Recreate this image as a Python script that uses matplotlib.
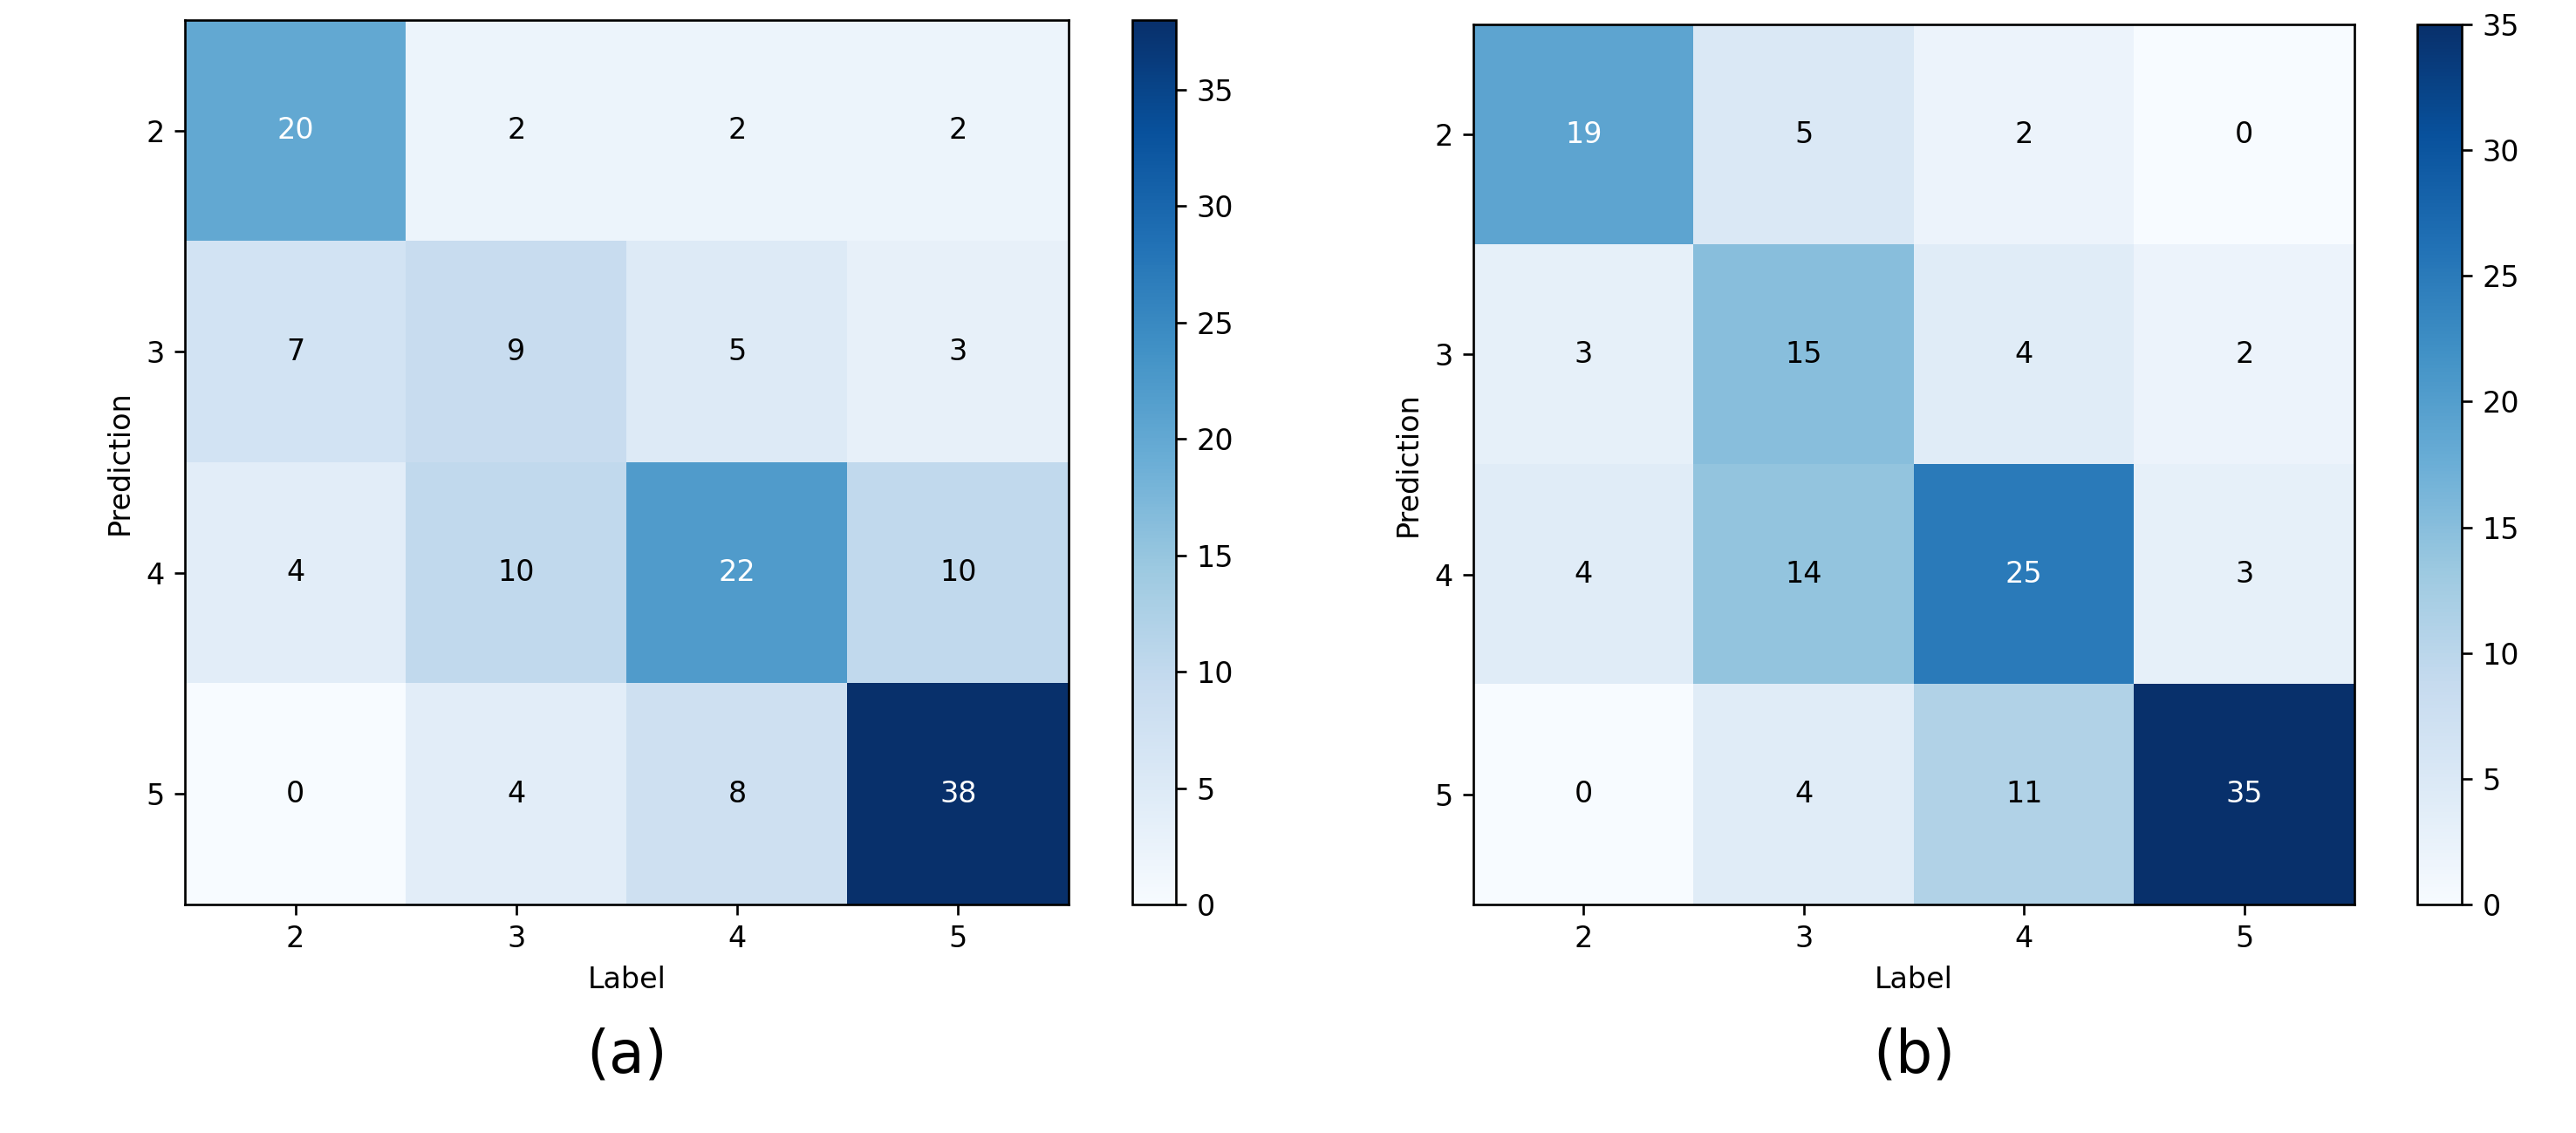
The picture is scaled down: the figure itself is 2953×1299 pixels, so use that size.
import numpy as np
import matplotlib
matplotlib.use("Agg")
import matplotlib.pyplot as plt

classes = ["2", "3", "4", "5"]
cm_a = np.array([
    [20, 2, 2, 2],
    [7, 9, 5, 3],
    [4, 10, 22, 10],
    [0, 4, 8, 38],
])
cm_b = np.array([
    [19, 5, 2, 0],
    [3, 15, 4, 2],
    [4, 14, 25, 3],
    [0, 4, 11, 35],
])
captions = ["(a)", "(b)"]

W, H = 2953, 1299
DPI = 240
fig = plt.figure(figsize=(W / DPI, H / DPI), dpi=DPI)
plt.rcParams['font.family'] = ['DejaVu Sans']


def frac(x, y_top, w, h):
    return [x / W, (H - y_top - h) / H, w / W, h / H]


layouts = [
    (frac(212, 23, 1013, 1014), frac(1298, 23, 50, 1014)),
    (frac(1689, 28, 1010, 1009), frac(2771, 28, 51, 1009)),
]

for cm, cap, (axpos, cpos) in zip([cm_a, cm_b], captions, layouts):
    ax = fig.add_axes(axpos)
    cax = fig.add_axes(cpos)
    im = ax.imshow(cm, cmap="Blues", interpolation="nearest", aspect="auto",
                   vmin=0, vmax=cm.max())
    cb = fig.colorbar(im, cax=cax)
    cb.outline.set_linewidth(0.8)
    ax.set_xticks(range(len(classes)))
    ax.set_xticklabels(classes)
    ax.set_yticks(range(len(classes)))
    ax.set_yticklabels(classes)
    ax.set_xlabel("Label")
    ax.set_ylabel("Prediction")
    thresh = cm.max() / 2.0
    for i in range(cm.shape[0]):
        for j in range(cm.shape[1]):
            ax.text(j, i, str(cm[i, j]), ha="center", va="center",
                    color="white" if cm[i, j] > thresh else "black", fontsize=10)
    bb = ax.get_position()
    fig.text((bb.x0 + bb.x1) / 2, (H - 1210) / H, cap, ha="center", va="center",
             fontsize=20)

fig.savefig("out.png", dpi=DPI)
